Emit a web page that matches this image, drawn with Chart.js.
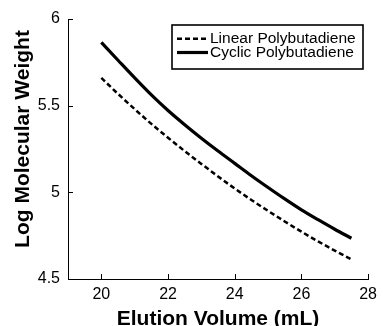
<!DOCTYPE html>
<html>
<head>
<meta charset="utf-8">
<script src="https://cdn.jsdelivr.net/npm/chart.js@4"></script>
<style>
  html, body { margin: 0; padding: 0; background: #fff; }
  #wrap { width: 383px; height: 326px; position: relative; }
</style>
</head>
<body>
<div id="wrap"><canvas id="c" width="383" height="326"></canvas></div>
<script>
// ---- Data ----
const elutionVolume = [20, 20.5, 21, 21.5, 22, 22.5, 23, 23.5, 24, 24.5, 25, 25.5, 26, 26.5, 27, 27.5];
const linearLogMW   = [5.660, 5.568, 5.480, 5.395, 5.315, 5.238, 5.164, 5.092, 5.022, 4.956, 4.893, 4.832, 4.773, 4.717, 4.664, 4.613];
const cyclicLogMW   = [5.865, 5.762, 5.660, 5.562, 5.472, 5.390, 5.312, 5.238, 5.167, 5.096, 5.028, 4.962, 4.899, 4.842, 4.787, 4.735];
const xTickValues = [20, 22, 24, 26, 28];
const yTickValues = [4.5, 5, 5.5, 6];
const seriesNames = ['Linear Polybutadiene', 'Cyclic Polybutadiene'];
const xTitle = 'Elution Volume (mL)';
const yTitle = 'Log Molecular Weight';

const toPts = (ys) => elutionVolume.map((x, i) => ({ x: x, y: ys[i] }));

const titleFont = 'bold 21px "Liberation Sans", Arial, sans-serif';
const legendFont = '15.5px "Liberation Sans", Arial, sans-serif';

const decorPlugin = {
  id: 'decor',
  afterDraw(chart) {
    const ctx = chart.ctx;
    const xs = chart.scales.x, ys = chart.scales.y;
    const area = chart.chartArea;
    ctx.save();
    // inward tick marks
    ctx.strokeStyle = '#000';
    ctx.lineWidth = 1;
    ctx.beginPath();
    xTickValues.forEach(v => {
      const px = Math.round(xs.getPixelForValue(v)) + 0.5;
      ctx.moveTo(px, area.bottom);
      ctx.lineTo(px, area.bottom - 5);
    });
    yTickValues.forEach(v => {
      const py = Math.round(ys.getPixelForValue(v)) + 0.5;
      ctx.moveTo(area.left, py);
      ctx.lineTo(area.left + 5, py);
    });
    ctx.stroke();

    // axis titles
    ctx.fillStyle = '#000';
    ctx.font = titleFont;
    ctx.textAlign = 'center';
    ctx.textBaseline = 'alphabetic';
    ctx.fillText(xTitle, (area.left + area.right) / 2, 325);
    ctx.save();
    ctx.translate(29, 139);
    ctx.rotate(-Math.PI / 2);
    ctx.fillText(yTitle, 0, 0);
    ctx.restore();

    // legend box
    const bx = 172, by = 25, bw = 191, bh = 44;
    ctx.lineWidth = 1.6;
    ctx.strokeStyle = '#000';
    ctx.strokeRect(bx, by, bw, bh);
    const rows = [38.7, 52.5];
    ctx.font = legendFont;
    ctx.textAlign = 'left';
    ctx.textBaseline = 'middle';
    chart.data.datasets.forEach((ds, i) => {
      const y = rows[i];
      ctx.save();
      ctx.strokeStyle = ds.borderColor;
      ctx.lineWidth = ds.borderWidth;
      ctx.setLineDash(ds.borderDash || []);
      ctx.beginPath();
      ctx.moveTo(177, y);
      ctx.lineTo(208, y);
      ctx.stroke();
      ctx.restore();
      ctx.fillStyle = '#000';
      ctx.fillText(ds.label, 210, y + 0.5);
    });
    ctx.restore();
  }
};

new Chart(document.getElementById('c'), {
  type: 'line',
  data: {
    datasets: [
      {
        label: seriesNames[0],
        data: toPts(linearLogMW),
        borderColor: '#000',
        borderWidth: 2.5,
        borderDash: [5, 3],
        pointRadius: 0,
        fill: false,
        cubicInterpolationMode: 'monotone'
      },
      {
        label: seriesNames[1],
        data: toPts(cyclicLogMW),
        borderColor: '#000',
        borderWidth: 3.2,
        pointRadius: 0,
        fill: false,
        cubicInterpolationMode: 'monotone'
      }
    ]
  },
  options: {
    responsive: false,
    animation: false,
    devicePixelRatio: 1,
    layout: { padding: { top: 19, right: 9, left: 0, bottom: 0 } },
    plugins: { legend: { display: false }, tooltip: { enabled: false } },
    scales: {
      x: {
        type: 'linear',
        min: 19, max: 28,
        afterBuildTicks: (s) => { s.ticks = xTickValues.map(v => ({ value: v })); },
        afterFit: (s) => { s.height = 47; },
        grid: { display: true, drawOnChartArea: false, drawTicks: false },
        border: { display: true, color: '#000', width: 1 },
        ticks: {
          color: '#000',
          padding: 6,
          maxRotation: 0,
          font: { family: '"Liberation Sans", Arial, sans-serif', size: 16 },
          callback: (v) => String(v)
        }
      },
      y: {
        type: 'linear',
        min: 4.5, max: 6,
        afterBuildTicks: (s) => { s.ticks = yTickValues.map(v => ({ value: v })); },
        afterFit: (s) => { s.width = 68; },
        grid: { display: true, drawOnChartArea: false, drawTicks: false },
        border: { display: true, color: '#000', width: 1 },
        ticks: {
          color: '#000',
          padding: 8,
          font: { family: '"Liberation Sans", Arial, sans-serif', size: 16 },
          callback: (v) => String(v)
        }
      }
    }
  },
  plugins: [decorPlugin]
});
</script>
</body>
</html>
